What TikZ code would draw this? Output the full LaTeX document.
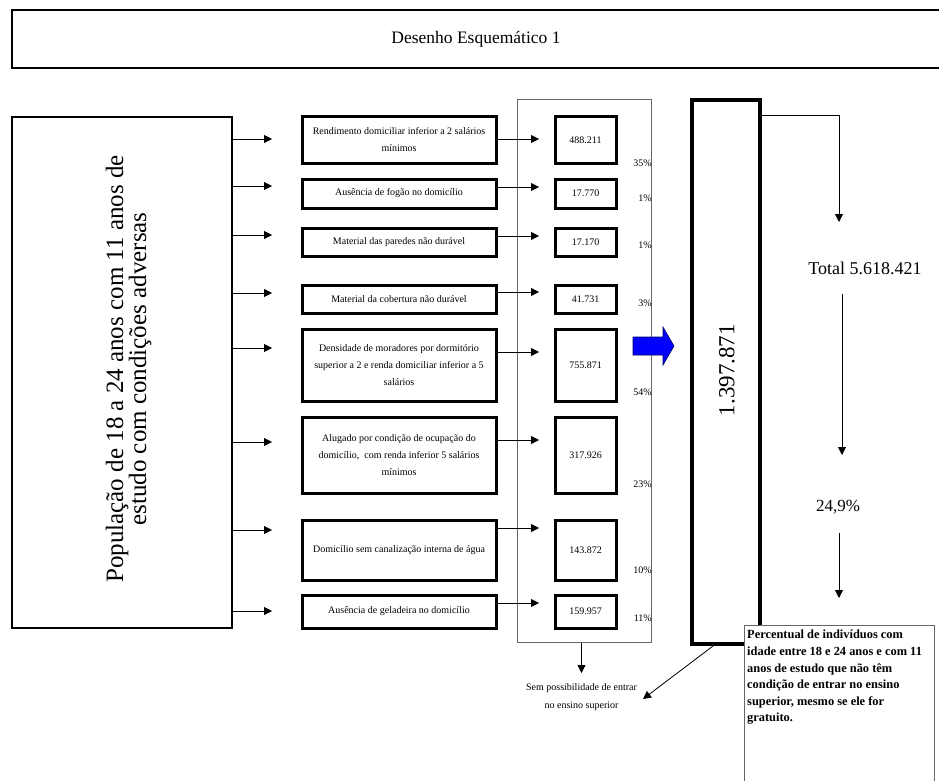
\documentclass[tikz,border=0pt]{standalone}
\usepackage{fontspec}
\setmainfont{Liberation Serif}
\usetikzlibrary{arrows.meta, positioning}

\begin{document}
\begin{tikzpicture}[x=1pt, y=-1pt,
    node distance=59pt,
    caixa/.style={draw, line width=3pt, inner sep=0pt, outer sep=0pt, align=center, font=\fontsize{10}{17}\selectfont},
    crit/.style={caixa, minimum width=194pt},
    num/.style={caixa, minimum width=61pt},
    pct/.style={anchor=east, inner sep=0pt, font=\fontsize{10}{12}\selectfont},
    seta/.style={-{Triangle[length=8pt, width=8pt]}, line width=0.8pt}
]
    \useasboundingbox (0,0) rectangle (939,781);

    % titulo
    \draw[line width=2.5pt] (939,10) -| (12,68) -- (939,68);
    \node[font=\fontsize{17.5}{20}\selectfont] (titulo) at (476,39) {Desenho Esquemático 1};

    % populacao
    \node[draw, line width=2.5pt, minimum width=220pt, minimum height=511pt, inner sep=0pt] (pop) at (122,372.5) {};
    \node[rotate=90, align=center, font=\fontsize{25}{23}\selectfont] (poptxt) at (128.5,369) {População de 18 a 24 anos com 11 anos de\\estudo com condições adversas};

    % caixa dos numeros
    \node[draw=black!60, line width=1pt, minimum width=134pt, minimum height=542pt, inner sep=0pt] (grupo) at (584,371) {};

    \node[crit, minimum height=46pt] (c1) at (399,140) {Rendimento domiciliar inferior a 2 salários\\mínimos};
    \node[num, minimum height=46pt, right=of c1] (n1) {488.211};
    \node[pct] (p1) at (652,163) {35\%};

    \node[crit, minimum height=29pt] (c2) at (399,193.5) {Ausência de fogão no domicílio};
    \node[num, minimum height=29pt, right=of c2] (n2) {17.770};
    \node[pct] (p2) at (652,198) {1\%};

    \node[crit, minimum height=28pt] (c3) at (399,242) {Material das paredes não durável};
    \node[num, minimum height=28pt, right=of c3] (n3) {17.170};
    \node[pct] (p3) at (652,245) {1\%};

    \node[crit, minimum height=28pt] (c4) at (399,299) {Material da cobertura não durável};
    \node[num, minimum height=28pt, right=of c4] (n4) {41.731};
    \node[pct] (p4) at (652,303) {3\%};

    \node[crit, minimum height=72pt] (c5) at (399,365) {Densidade de moradores por dormitório\\superior a 2 e renda domiciliar inferior a 5\\salários};
    \node[num, minimum height=72pt, right=of c5] (n5) {755.871};
    \node[pct] (p5) at (652,392) {54\%};

    \node[crit, minimum height=76pt] (c6) at (399,455) {Alugado por condição de ocupação do\\domicílio,\ \ com renda inferior 5 salários\\mínimos};
    \node[num, minimum height=76pt, right=of c6] (n6) {317.926};
    \node[pct] (p6) at (652,484) {23\%};

    \node[crit, minimum height=60pt] (c7) at (399,550) {Domicílio sem canalização interna de água};
    \node[num, minimum height=60pt, right=of c7] (n7) {143.872};
    \node[pct] (p7) at (652,570) {10\%};

    \node[crit, minimum height=33pt] (c8) at (399,611.5) {Ausência de geladeira no domicílio};
    \node[num, minimum height=33pt, right=of c8] (n8) {159.957};
    \node[pct] (p8) at (652,618) {11\%};

    % setas da populacao
    \coordinate (e1) at (272,139);
    \coordinate (e2) at (272,186);
    \coordinate (e3) at (272,235);
    \coordinate (e4) at (272,293);
    \coordinate (e5) at (272,348);
    \coordinate (e6) at (272,442);
    \coordinate (e7) at (272,530);
    \coordinate (e8) at (272,611);
    \draw[seta] (pop.east |- e1) -- (e1);
    \draw[seta] (pop.east |- e2) -- (e2);
    \draw[seta] (pop.east |- e3) -- (e3);
    \draw[seta] (pop.east |- e4) -- (e4);
    \draw[seta] (pop.east |- e5) -- (e5);
    \draw[seta] (pop.east |- e6) -- (e6);
    \draw[seta] (pop.east |- e7) -- (e7);
    \draw[seta] (pop.east |- e8) -- (e8);

    % setas dos criterios
    \coordinate (m1) at (539,139);
    \coordinate (m2) at (539,187);
    \coordinate (m3) at (539,236);
    \coordinate (m4) at (539,292);
    \coordinate (m5) at (539,352);
    \coordinate (m6) at (539,440);
    \coordinate (m7) at (539,528);
    \coordinate (m8) at (539,603);
    \draw[seta] (c1.east |- m1) -- (m1);
    \draw[seta] (c2.east |- m2) -- (m2);
    \draw[seta] (c3.east |- m3) -- (m3);
    \draw[seta] (c4.east |- m4) -- (m4);
    \draw[seta] (c5.east |- m5) -- (m5);
    \draw[seta] (c6.east |- m6) -- (m6);
    \draw[seta] (c7.east |- m7) -- (m7);
    \draw[seta] (c8.east |- m8) -- (m8);

    % seta azul
    \filldraw[fill=blue, draw=blue!40!black, line width=0.6pt] (633,337) -- (663,337) -- (663,327) -- (674,346) -- (663,365) -- (663,355) -- (633,355) -- cycle;

    % total
    \node[draw, line width=4pt, minimum width=68pt, minimum height=544pt, inner sep=0pt] (soma) at (726,372) {};
    \node[rotate=90, font=\fontsize{23}{26}\selectfont] (somatxt) at (727,370) {1.397.871};

    % nota
    \fill[white] (744,625) rectangle (934,781);
    \draw[black!60, line width=1pt] (744,781) |- (934,625) -- (934,781);
    \node[anchor=north west, align=left, inner xsep=3pt, inner ysep=5pt, font=\bfseries\fontsize{12.4}{16.6}\selectfont] (nota) at (744,625) {Percentual de indivíduos com\\idade entre 18 e 24 anos e com 11\\anos de estudo que não têm\\condição de entrar no ensino\\superior, mesmo se ele for\\gratuito.};

    \node[font=\fontsize{18}{20}\selectfont] (geral) at (865,268) {Total 5.618.421};
    \node[font=\fontsize{17}{20}\selectfont] (taxa) at (838,507) {24,9\%};
    \node[align=center, font=\fontsize{10}{18}\selectfont] (sem) at (581.5,697) {Sem possibilidade de entrar\\no ensino superior};

    \coordinate (a1) at (839,222);
    \coordinate (a2) at (842,294);
    \coordinate (a3) at (842,455);
    \coordinate (a4) at (839,533);
    \coordinate (a5) at (839,598);
    \coordinate (a6) at (643,699);
    \coordinate (a7) at (581.5,673);
    \draw[seta] ([yshift=-17pt]soma.north east) -| (a1);
    \draw[seta] (a2) -- (a3);
    \draw[seta] (a4) -- (a5);
    \draw[seta] ([xshift=-13pt]soma.south) -- (a6);
    \draw[seta] (sem.north |- grupo.south) -- (a7);

\end{tikzpicture}
\end{document}
